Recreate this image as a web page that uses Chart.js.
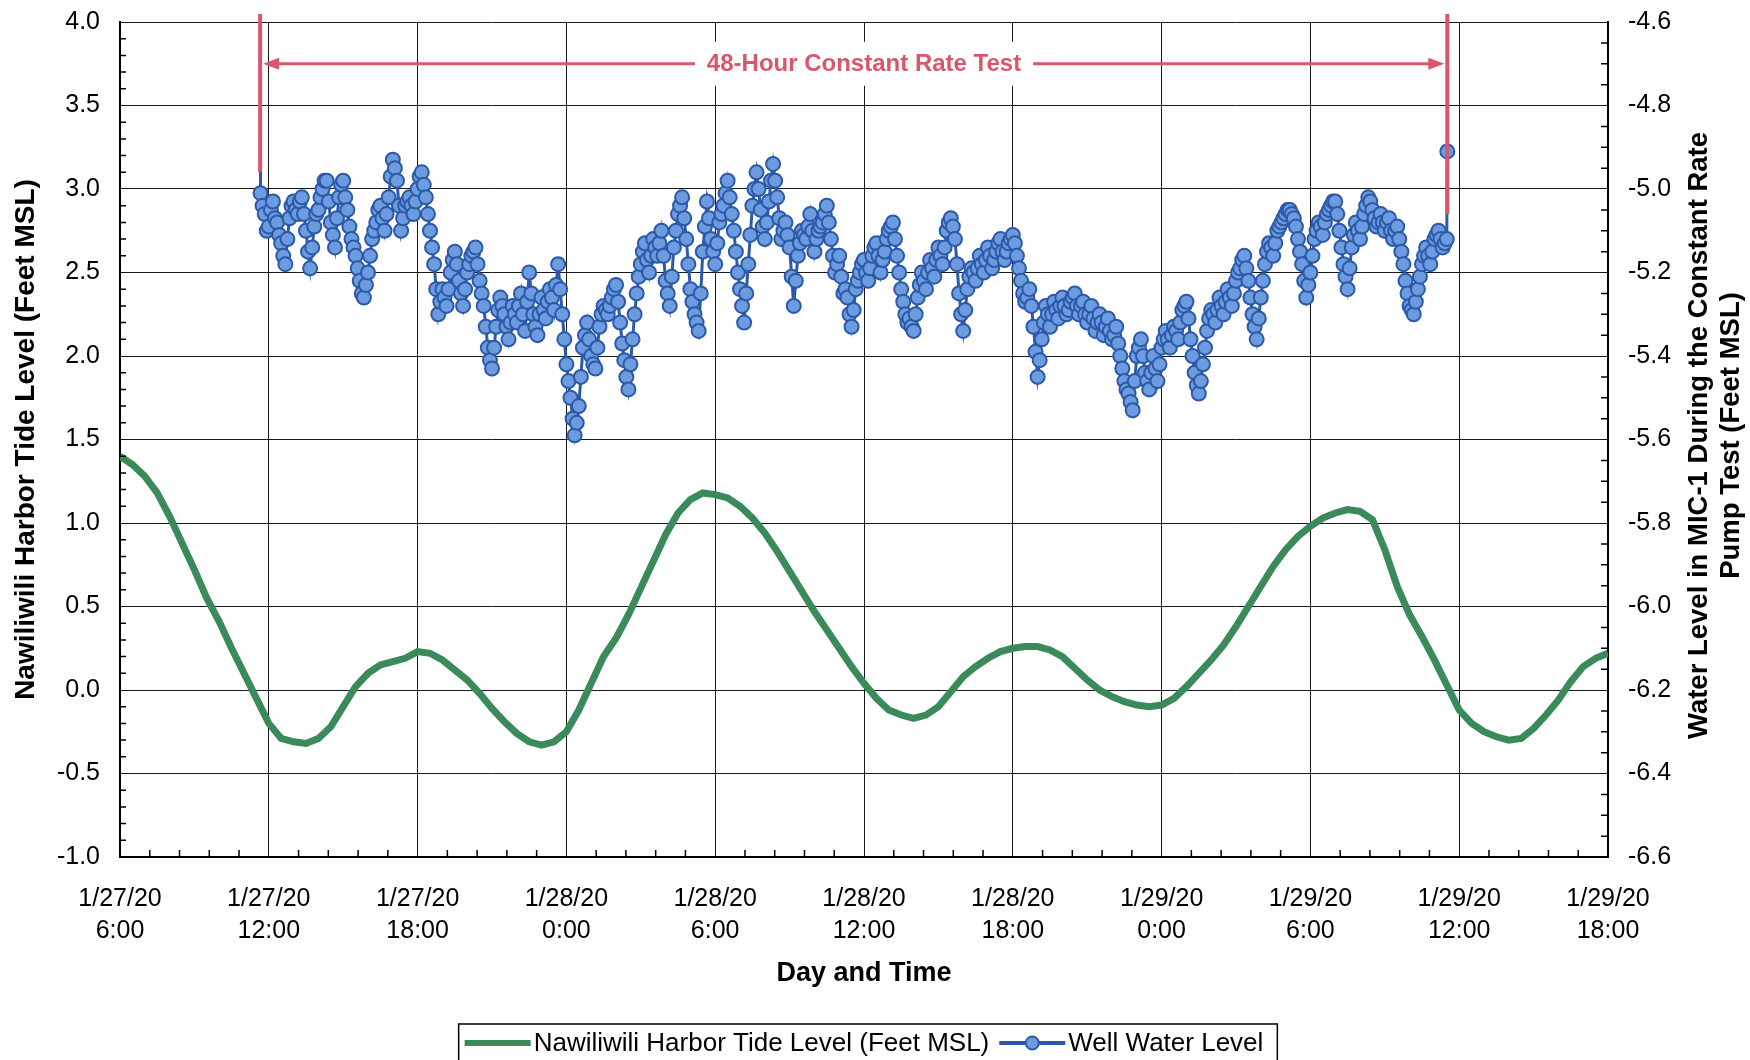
<!DOCTYPE html>
<html>
<head>
<meta charset="utf-8">
<title>Nawiliwili Harbor Tide Level and Well Water Level</title>
<script src="https://cdn.jsdelivr.net/npm/chart.js@4.4.1/dist/chart.umd.min.js"></script>
<style>
  html, body { margin: 0; padding: 0; background: #fff; }
  canvas { display: block; }
</style>
</head>
<body>
<canvas id="tideChart" width="1750" height="1060"></canvas>
<script>
// hours are counted from 1/27/20 0:00
const tideStartHour = 6;
const tideStepHours = 0.5;
const tideLevels = [
  1.40, 1.35, 1.28, 1.18, 1.04, 0.88, 0.72, 0.55, 0.41, 0.25, 0.10, -0.05,
  -0.20, -0.29, -0.31, -0.32, -0.29, -0.22, -0.10, 0.02, 0.10, 0.15, 0.17, 0.19,
  0.23, 0.22, 0.18, 0.12, 0.06, -0.02, -0.11, -0.19, -0.26, -0.31, -0.33, -0.31,
  -0.25, -0.12, 0.04, 0.20, 0.31, 0.45, 0.61, 0.77, 0.93, 1.06, 1.14, 1.18,
  1.17, 1.15, 1.10, 1.03, 0.94, 0.83, 0.71, 0.59, 0.47, 0.36, 0.25, 0.14,
  0.04, -0.05, -0.12, -0.15, -0.17, -0.15, -0.10, -0.01, 0.08, 0.14, 0.19, 0.23,
  0.25, 0.26, 0.26, 0.24, 0.20, 0.13, 0.06, 0.00, -0.04, -0.07, -0.09, -0.10,
  -0.09, -0.05, 0.02, 0.10, 0.18, 0.27, 0.38, 0.50, 0.62, 0.74, 0.84, 0.92,
  0.98, 1.03, 1.06, 1.08, 1.07, 1.02, 0.84, 0.62, 0.45, 0.32, 0.18, 0.03,
  -0.12, -0.20, -0.25, -0.28, -0.30, -0.29, -0.23, -0.15, -0.06, 0.05, 0.14, 0.19,
  0.22
];

// well water level (feet MSL), one reading every 5 minutes from 1/27/20 11:40
const wellStartHour = 11 + 40 / 60;
const wellStepHours = 5 / 60;
const wellLevels = [
  -5.01, -5.04, -5.06, -5.10, -5.09, -5.05, -5.03, -5.07, -5.08, -5.11, -5.13, -5.16,
  -5.18, -5.12, -5.07, -5.04, -5.03, -5.05, -5.06, -5.03, -5.02, -5.06, -5.10, -5.15,
  -5.19, -5.14, -5.09, -5.06, -5.05, -5.02, -5.00, -4.98, -4.98, -5.03, -5.08, -5.11,
  -5.14, -5.07, -5.02, -4.99, -4.98, -5.02, -5.05, -5.09, -5.12, -5.14, -5.16, -5.19,
  -5.22, -5.25, -5.26, -5.23, -5.20, -5.16, -5.12, -5.10, -5.08, -5.05, -5.04, -5.07,
  -5.10, -5.06, -5.02, -4.97, -4.93, -4.95, -4.98, -5.04, -5.10, -5.07, -5.04, -5.03,
  -5.02, -5.04, -5.06, -5.03, -5.00, -4.97, -4.96, -4.99, -5.02, -5.06, -5.10, -5.14,
  -5.18, -5.24, -5.30, -5.27, -5.24, -5.26, -5.28, -5.24, -5.20, -5.17, -5.15, -5.18,
  -5.22, -5.25, -5.28, -5.24, -5.20, -5.18, -5.16, -5.15, -5.14, -5.18, -5.22, -5.25,
  -5.28, -5.33, -5.38, -5.41, -5.43, -5.38, -5.33, -5.29, -5.26, -5.28, -5.30, -5.33,
  -5.36, -5.32, -5.28, -5.30, -5.32, -5.28, -5.25, -5.30, -5.34, -5.27, -5.20, -5.25,
  -5.30, -5.33, -5.35, -5.30, -5.26, -5.29, -5.31, -5.27, -5.24, -5.26, -5.29, -5.23,
  -5.18, -5.24, -5.30, -5.36, -5.42, -5.46, -5.50, -5.55, -5.59, -5.56, -5.52, -5.45,
  -5.38, -5.35, -5.32, -5.36, -5.40, -5.42, -5.43, -5.38, -5.33, -5.30, -5.28, -5.29,
  -5.30, -5.28, -5.26, -5.24, -5.23, -5.27, -5.32, -5.37, -5.41, -5.45, -5.48, -5.42,
  -5.36, -5.30, -5.25, -5.21, -5.18, -5.15, -5.13, -5.17, -5.20, -5.16, -5.12, -5.14,
  -5.16, -5.13, -5.10, -5.16, -5.22, -5.25, -5.28, -5.21, -5.14, -5.10, -5.06, -5.04,
  -5.02, -5.07, -5.12, -5.18, -5.24, -5.27, -5.30, -5.32, -5.34, -5.25, -5.15, -5.09,
  -5.03, -5.07, -5.12, -5.15, -5.18, -5.13, -5.08, -5.06, -5.04, -5.01, -4.98, -5.02,
  -5.06, -5.10, -5.15, -5.20, -5.24, -5.28, -5.32, -5.25, -5.18, -5.11, -5.04, -5.00,
  -4.96, -5.00, -5.05, -5.09, -5.12, -5.08, -5.03, -4.98, -4.94, -4.98, -5.02, -5.07,
  -5.12, -5.10, -5.08, -5.11, -5.14, -5.21, -5.28, -5.22, -5.16, -5.13, -5.10, -5.11,
  -5.12, -5.09, -5.06, -5.10, -5.15, -5.12, -5.10, -5.09, -5.08, -5.06, -5.04, -5.08,
  -5.12, -5.16, -5.20, -5.18, -5.16, -5.21, -5.25, -5.24, -5.26, -5.30, -5.33, -5.29,
  -5.24, -5.22, -5.20, -5.18, -5.17, -5.20, -5.22, -5.19, -5.16, -5.14, -5.13, -5.16,
  -5.20, -5.17, -5.15, -5.12, -5.10, -5.09, -5.08, -5.12, -5.16, -5.20, -5.24, -5.27,
  -5.30, -5.32, -5.31, -5.33, -5.34, -5.30, -5.26, -5.23, -5.20, -5.22, -5.24, -5.20,
  -5.17, -5.19, -5.21, -5.17, -5.14, -5.16, -5.18, -5.14, -5.10, -5.08, -5.07, -5.09,
  -5.12, -5.18, -5.25, -5.30, -5.34, -5.29, -5.24, -5.21, -5.19, -5.20, -5.22, -5.19,
  -5.16, -5.18, -5.20, -5.17, -5.14, -5.16, -5.19, -5.17, -5.15, -5.13, -5.12, -5.15,
  -5.17, -5.15, -5.13, -5.12, -5.11, -5.13, -5.16, -5.19, -5.22, -5.25, -5.27, -5.26,
  -5.24, -5.28, -5.33, -5.39, -5.45, -5.41, -5.36, -5.32, -5.28, -5.30, -5.33, -5.30,
  -5.27, -5.29, -5.31, -5.28, -5.26, -5.28, -5.30, -5.29, -5.27, -5.26, -5.25, -5.28,
  -5.30, -5.28, -5.27, -5.30, -5.32, -5.30, -5.28, -5.31, -5.34, -5.32, -5.30, -5.32,
  -5.35, -5.33, -5.31, -5.34, -5.36, -5.35, -5.33, -5.37, -5.40, -5.43, -5.46, -5.48,
  -5.49, -5.51, -5.53, -5.46, -5.40, -5.38, -5.36, -5.40, -5.44, -5.46, -5.48, -5.44,
  -5.40, -5.43, -5.46, -5.42, -5.38, -5.36, -5.34, -5.36, -5.38, -5.35, -5.33, -5.34,
  -5.36, -5.32, -5.29, -5.28, -5.27, -5.31, -5.36, -5.40, -5.44, -5.47, -5.49, -5.46,
  -5.42, -5.38, -5.34, -5.31, -5.29, -5.30, -5.32, -5.29, -5.26, -5.28, -5.30, -5.27,
  -5.24, -5.26, -5.28, -5.25, -5.22, -5.20, -5.19, -5.17, -5.16, -5.19, -5.22, -5.26,
  -5.30, -5.33, -5.36, -5.31, -5.26, -5.22, -5.18, -5.15, -5.13, -5.14, -5.16, -5.13,
  -5.10, -5.09, -5.08, -5.07, -5.06, -5.05, -5.05, -5.06, -5.07, -5.09, -5.12, -5.15,
  -5.18, -5.22, -5.26, -5.23, -5.20, -5.16, -5.12, -5.10, -5.08, -5.09, -5.11, -5.08,
  -5.06, -5.05, -5.04, -5.03, -5.03, -5.06, -5.10, -5.14, -5.18, -5.21, -5.24, -5.19,
  -5.14, -5.11, -5.08, -5.10, -5.12, -5.09, -5.06, -5.04, -5.02, -5.03, -5.05, -5.07,
  -5.09, -5.08, -5.06, -5.08, -5.10, -5.08, -5.07, -5.10, -5.12, -5.10, -5.09, -5.12,
  -5.15, -5.18, -5.22, -5.25, -5.28, -5.29, -5.30, -5.27, -5.24, -5.21, -5.18, -5.16,
  -5.14, -5.16, -5.18, -5.15, -5.12, -5.11, -5.10, -5.12, -5.14, -5.13, -5.12
];

// readings off the top of the scale when the pump started and stopped
const wellEdgeHours = [11.65, 59.52, 59.53];
const wellEdgeLevels = [-4.40, -4.91, -4.40];

// x axis labels, one per 6 hours
const xTickDates = ['1/27/20', '1/27/20', '1/27/20', '1/28/20', '1/28/20', '1/28/20',
  '1/28/20', '1/29/20', '1/29/20', '1/29/20', '1/29/20'];
const xTickTimes = ['6:00', '12:00', '18:00', '0:00', '6:00', '12:00',
  '18:00', '0:00', '6:00', '12:00', '18:00'];

// 48-hour test markers
const testStartHour = 11.65;
const testEndHour = 59.52;
const testStartBottom = -4.96;
const testEndBottom = -5.06;
const arrowLevel = -4.70;
const testLabelHour = 36.0;
const testLabel = '48-Hour Constant Rate Test';

const redColor = '#d9566c';
const greenColor = '#3a8a5b';
const blueLine = '#2c5aa8';
const blueFill = '#6c9be0';
const fontFamily = '"Liberation Sans", Arial, sans-serif';

const tidePoints = tideLevels.map((v, i) => ({ x: tideStartHour + i * tideStepHours, y: v }));
const wellPoints = wellLevels.map((v, i) => ({ x: wellStartHour + i * wellStepHours, y: v }));
wellPoints.unshift({ x: wellEdgeHours[0], y: wellEdgeLevels[0] });
wellPoints.push({ x: wellEdgeHours[1], y: wellEdgeLevels[1] });
wellPoints.push({ x: wellEdgeHours[2], y: wellEdgeLevels[2] });

Chart.defaults.font.family = fontFamily;
Chart.defaults.color = '#000';

// red lines, arrow and label of the test period
const testPeriodPlugin = {
  id: 'testPeriod',
  afterDatasetsDraw(chart) {
    const ctx = chart.ctx;
    const xs = chart.scales.x;
    const ys = chart.scales.y1;
    const xa = xs.getPixelForValue(testStartHour);
    const xb = xs.getPixelForValue(testEndHour);
    const yTop = chart.chartArea.top - 8;
    const ya = ys.getPixelForValue(arrowLevel);

    ctx.save();
    ctx.strokeStyle = redColor;
    ctx.fillStyle = redColor;
    ctx.lineWidth = 4;
    ctx.beginPath();
    ctx.moveTo(xa, yTop);
    ctx.lineTo(xa, ys.getPixelForValue(testStartBottom));
    ctx.moveTo(xb, yTop);
    ctx.lineTo(xb, ys.getPixelForValue(testEndBottom));
    ctx.stroke();

    ctx.lineWidth = 3;
    ctx.beginPath();
    ctx.moveTo(xa + 12, ya);
    ctx.lineTo(xb - 12, ya);
    ctx.stroke();
    // arrow heads
    ctx.beginPath();
    ctx.moveTo(xa + 3, ya);
    ctx.lineTo(xa + 19, ya - 6);
    ctx.lineTo(xa + 19, ya + 6);
    ctx.closePath();
    ctx.moveTo(xb - 3, ya);
    ctx.lineTo(xb - 19, ya - 6);
    ctx.lineTo(xb - 19, ya + 6);
    ctx.closePath();
    ctx.fill();

    ctx.font = 'bold 24px ' + fontFamily;
    const cx = xs.getPixelForValue(testLabelHour);
    const w = ctx.measureText(testLabel).width;
    ctx.fillStyle = '#fff';
    ctx.fillRect(cx - w / 2 - 12, ya - 22, w + 24, 44);
    ctx.fillStyle = redColor;
    ctx.textAlign = 'center';
    ctx.textBaseline = 'middle';
    ctx.fillText(testLabel, cx, ya + 1);
    ctx.restore();
  }
};

// small inside tick marks, right axis title and boxed legend
const decorPlugin = {
  id: 'decor',
  afterDraw(chart) {
    const { ctx, chartArea, scales } = chart;
    ctx.save();
    ctx.strokeStyle = '#000';
    ctx.lineWidth = 1.5;
    ctx.beginPath();
    for (let i = 1; i < 50; i++) {
      if (i % 5 === 0) continue;
      const px = scales.x.getPixelForValue(6 + i * 1.2);
      ctx.moveTo(px, chartArea.bottom);
      ctx.lineTo(px, chartArea.bottom - 7);
    }
    for (let i = 1; i < 50; i++) {
      if (i % 5 === 0) continue;
      const py = scales.y.getPixelForValue(-1 + i * 0.1);
      ctx.moveTo(chartArea.left, py);
      ctx.lineTo(chartArea.left + 6, py);
    }
    for (let i = 1; i < 40; i++) {
      if (i % 4 === 0) continue;
      const py = scales.y1.getPixelForValue(-6.6 + i * 0.05);
      ctx.moveTo(chartArea.right, py);
      ctx.lineTo(chartArea.right - 7, py);
    }
    ctx.stroke();

    // right axis title, read bottom to top
    const midY = (chartArea.top + chartArea.bottom) / 2;
    ctx.fillStyle = '#000';
    ctx.font = 'bold 27.5px ' + fontFamily;
    ctx.textAlign = 'center';
    ctx.textBaseline = 'middle';
    const rightTitle = ['Water Level in MIC-1 During the Constant Rate', 'Pump Test (Feet MSL)'];
    rightTitle.forEach((line, i) => {
      ctx.save();
      ctx.translate(1699 + i * 32, midY - 4);
      ctx.rotate(-Math.PI / 2);
      ctx.fillText(line, 0, 0);
      ctx.restore();
    });

    // legend
    ctx.font = '26px ' + fontFamily;
    const label1 = 'Nawiliwili Harbor Tide Level (Feet MSL)';
    const label2 = 'Well Water Level';
    const w1 = ctx.measureText(label1).width;
    const w2 = ctx.measureText(label2).width;
    const sample = 66;
    const boxW = 6 + sample + 3 + w1 + 10 + sample + 3 + w2 + 14;
    const boxX = (chartArea.left + chartArea.right) / 2 + 4 - boxW / 2;
    const boxY = 1024;
    const ly = 1043;
    ctx.lineWidth = 1.5;
    ctx.strokeRect(boxX, boxY, boxW, 60);

    let lx = boxX + 6;
    ctx.strokeStyle = greenColor;
    ctx.lineWidth = 6;
    ctx.beginPath();
    ctx.moveTo(lx, ly);
    ctx.lineTo(lx + sample, ly);
    ctx.stroke();
    lx += sample + 3;
    ctx.textAlign = 'left';
    ctx.fillStyle = '#000';
    ctx.fillText(label1, lx, ly + 1);
    lx += w1 + 10;
    ctx.strokeStyle = blueLine;
    ctx.lineWidth = 4;
    ctx.beginPath();
    ctx.moveTo(lx, ly);
    ctx.lineTo(lx + sample, ly);
    ctx.stroke();
    ctx.beginPath();
    ctx.arc(lx + sample / 2, ly, 6.5, 0, Math.PI * 2);
    ctx.fillStyle = blueFill;
    ctx.fill();
    ctx.lineWidth = 2;
    ctx.stroke();
    lx += sample + 3;
    ctx.fillStyle = '#000';
    ctx.fillText(label2, lx, ly + 1);
    ctx.restore();
  }
};

// fixed axis box sizes so the plot area lands where the original has it
function fixWidth(width) {
  return (scale) => {
    scale.width = width;
    scale.paddingTop = 0;
    scale.paddingBottom = 0;
  };
}

const ctx = document.getElementById('tideChart').getContext('2d');
const tideChart = new Chart(ctx, {
  type: 'line',
  data: {
    datasets: [
      {
        label: 'Nawiliwili Harbor Tide Level (Feet MSL)',
        data: tidePoints,
        yAxisID: 'y',
        borderColor: greenColor,
        borderWidth: 7,
        pointRadius: 0,
        tension: 0
      },
      {
        label: 'Well Water Level',
        data: wellPoints,
        yAxisID: 'y1',
        borderColor: blueLine,
        borderWidth: 3,
        pointRadius: 7,
        pointBorderWidth: 2,
        pointBackgroundColor: blueFill,
        pointBorderColor: blueLine,
        tension: 0
      }
    ]
  },
  options: {
    responsive: false,
    animation: false,
    devicePixelRatio: 1,
    layout: { padding: { top: 22, right: 0, bottom: 60, left: 0 } },
    plugins: {
      legend: { display: false },
      tooltip: { enabled: false }
    },
    scales: {
      x: {
        type: 'linear',
        min: 6,
        max: 66,
        afterFit: (scale) => { scale.height = 143; },
        ticks: {
          stepSize: 6,
          autoSkip: false,
          maxRotation: 0,
          padding: 26,
          font: { size: 25, lineHeight: 1.28 },
          callback: function(value) {
            const i = Math.round((value - 6) / 6);
            return [xTickDates[i], xTickTimes[i]];
          }
        },
        grid: { color: '#1a1a1a', lineWidth: 1, drawTicks: false },
        border: { color: '#000', width: 2 },
        title: {
          display: true,
          text: 'Day and Time',
          font: { size: 27, weight: 'bold', lineHeight: 1.2 },
          padding: { top: 0, bottom: 10 }
        }
      },
      y: {
        position: 'left',
        min: -1,
        max: 4,
        afterFit: fixWidth(120),
        ticks: {
          stepSize: 0.5,
          padding: 20,
          font: { size: 25 },
          callback: (value) => value.toFixed(1)
        },
        grid: { color: '#1a1a1a', lineWidth: 1, drawTicks: false },
        border: { color: '#000', width: 2 },
        title: {
          display: true,
          text: 'Nawiliwili Harbor Tide Level (Feet MSL)',
          font: { size: 28, weight: 'bold', lineHeight: 1.2 },
          padding: { top: 9, bottom: 0 }
        }
      },
      y1: {
        position: 'right',
        min: -6.6,
        max: -4.6,
        afterFit: fixWidth(142),
        ticks: {
          stepSize: 0.2,
          padding: 20,
          font: { size: 25 },
          callback: (value) => value.toFixed(1)
        },
        grid: { drawOnChartArea: false, drawTicks: false },
        border: { color: '#000', width: 2 }
      }
    }
  },
  plugins: [testPeriodPlugin, decorPlugin]
});
</script>
</body>
</html>
